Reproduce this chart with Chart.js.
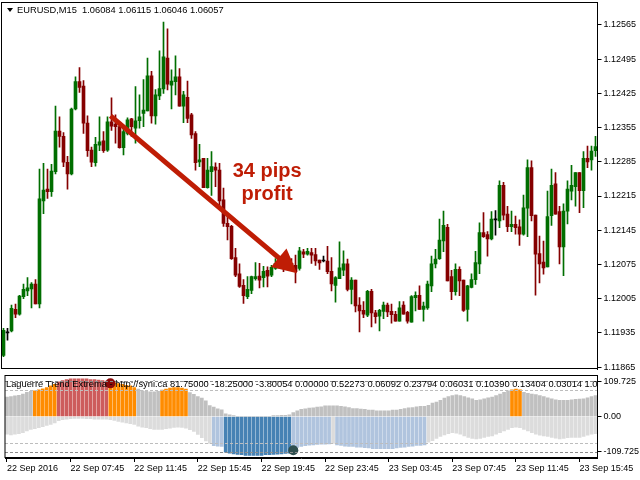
<!DOCTYPE html>
<html>
<head>
<meta charset="utf-8">
<script src="https://cdn.jsdelivr.net/npm/chart.js@4.4.0/dist/chart.umd.min.js"></script>
<style>
  html, body { margin: 0; padding: 0; background: #fff; }
  #wrap { position: relative; width: 640px; height: 480px; overflow: hidden; }
  #priceChart { position: absolute; left: 0; top: 0; }
  #lagChart { position: absolute; left: 0; top: 370px; }
</style>
</head>
<body>
<div id="wrap">
  <canvas id="priceChart" width="640" height="372"></canvas>
  <canvas id="lagChart" width="640" height="110"></canvas>
</div>
<script>
// EURUSD M15 candles, 22-23 Sep 2016
var opens = [
  1.11889, 1.11935, 1.11939, 1.11983, 1.11973, 1.12009, 1.12021, 1.12025, 1.12035, 1.11994,
  1.12205, 1.12229, 1.12224, 1.12265, 1.12348, 1.12337, 1.12284, 1.12260, 1.12393, 1.12449,
  1.12440, 1.12364, 1.12309, 1.12283, 1.12319, 1.12328, 1.12309, 1.12367, 1.12362, 1.12357,
  1.12314, 1.12343, 1.12373, 1.12354, 1.12369, 1.12384, 1.12389, 1.12461, 1.12379, 1.12420,
  1.12434, 1.12497, 1.12442, 1.12449, 1.12459, 1.12399, 1.12417, 1.12381, 1.12343, 1.12285,
  1.12292, 1.12232, 1.12265, 1.12274, 1.12268, 1.12207, 1.12159, 1.12153, 1.12089, 1.12056,
  1.12032, 1.12009, 1.12022, 1.12046, 1.12051, 1.12048, 1.12063, 1.12053, 1.12067, 1.12070,
  1.12078, 1.12070, 1.12077, 1.12073, 1.12067, 1.12101, 1.12096, 1.12099, 1.12095, 1.12084,
  1.12082, 1.12082, 1.12061, 1.12032, 1.12046, 1.12063, 1.12076, 1.12024, 1.12043, 1.11992,
  1.11981, 1.11971, 1.12020, 1.11976, 1.11969, 1.11979, 1.11992, 1.11979, 1.11973, 1.11959,
  1.11992, 1.11977, 1.11957, 1.12007, 1.12012, 1.11983, 1.11986, 1.12031, 1.12076, 1.12087,
  1.12123, 1.12151, 1.12050, 1.12019, 1.12065, 1.12043, 1.11983, 1.12028, 1.12044, 1.12076,
  1.12140, 1.12136, 1.12127, 1.12166, 1.12164, 1.12237, 1.12178, 1.12152, 1.12157, 1.12152,
  1.12137, 1.12190, 1.12273, 1.12176, 1.12097, 1.12080, 1.12070, 1.12175, 1.12240, 1.12183,
  1.12111, 1.12184, 1.12225, 1.12234, 1.12263, 1.12226, 1.12292, 1.12289, 1.12308
];
var highs = [
  1.11944, 1.11944, 1.11992, 1.11994, 1.12012, 1.12035, 1.12048, 1.12038, 1.12044, 1.12270,
  1.12282, 1.12270, 1.12280, 1.12399, 1.12377, 1.12345, 1.12296, 1.12395, 1.12459, 1.12478,
  1.12451, 1.12379, 1.12315, 1.12335, 1.12377, 1.12347, 1.12377, 1.12416, 1.12381, 1.12364,
  1.12354, 1.12375, 1.12374, 1.12439, 1.12422, 1.12453, 1.12497, 1.12470, 1.12433, 1.12512,
  1.12571, 1.12557, 1.12473, 1.12502, 1.12476, 1.12429, 1.12450, 1.12384, 1.12347, 1.12321,
  1.12292, 1.12292, 1.12306, 1.12283, 1.12282, 1.12231, 1.12173, 1.12155, 1.12108, 1.12076,
  1.12044, 1.12050, 1.12051, 1.12079, 1.12077, 1.12071, 1.12070, 1.12073, 1.12087, 1.12085,
  1.12087, 1.12084, 1.12087, 1.12094, 1.12110, 1.12106, 1.12108, 1.12108, 1.12108, 1.12084,
  1.12092, 1.12112, 1.12089, 1.12050, 1.12121, 1.12103, 1.12086, 1.12048, 1.12043, 1.12007,
  1.11999, 1.12022, 1.12024, 1.11981, 1.11983, 1.11998, 1.11996, 1.11994, 1.11979, 1.11999,
  1.11999, 1.11979, 1.12011, 1.12019, 1.12031, 1.11998, 1.12041, 1.12092, 1.12106, 1.12168,
  1.12184, 1.12157, 1.12063, 1.12076, 1.12070, 1.12043, 1.12032, 1.12056, 1.12102, 1.12160,
  1.12181, 1.12142, 1.12183, 1.12185, 1.12246, 1.12243, 1.12194, 1.12184, 1.12174, 1.12166,
  1.12217, 1.12289, 1.12287, 1.12176, 1.12133, 1.12123, 1.12225, 1.12270, 1.12263, 1.12194,
  1.12199, 1.12246, 1.12278, 1.12263, 1.12263, 1.12306, 1.12317, 1.12317, 1.12337
];
var lows = [
  1.11886, 1.11920, 1.11937, 1.11966, 1.11971, 1.12005, 1.12011, 1.11986, 1.11994, 1.11986,
  1.12179, 1.12210, 1.12214, 1.12260, 1.12315, 1.12275, 1.12229, 1.12258, 1.12391, 1.12427,
  1.12343, 1.12296, 1.12275, 1.12276, 1.12308, 1.12304, 1.12306, 1.12349, 1.12323, 1.12313,
  1.12299, 1.12340, 1.12337, 1.12323, 1.12354, 1.12357, 1.12389, 1.12364, 1.12362, 1.12412,
  1.12425, 1.12432, 1.12393, 1.12422, 1.12399, 1.12365, 1.12365, 1.12333, 1.12268, 1.12275,
  1.12232, 1.12231, 1.12216, 1.12234, 1.12193, 1.12153, 1.12125, 1.12085, 1.12050, 1.12028,
  1.11995, 1.12005, 1.12015, 1.12043, 1.12027, 1.12029, 1.12029, 1.12050, 1.12065, 1.12067,
  1.12060, 1.12065, 1.12063, 1.12037, 1.12063, 1.12089, 1.12094, 1.12077, 1.12073, 1.12065,
  1.12080, 1.12056, 1.12021, 1.11998, 1.12046, 1.12052, 1.12021, 1.11994, 1.11978, 1.11937,
  1.11966, 1.11968, 1.11947, 1.11955, 1.11939, 1.11964, 1.11968, 1.11955, 1.11959, 1.11959,
  1.11973, 1.11955, 1.11957, 1.11980, 1.11983, 1.11959, 1.11983, 1.12019, 1.12068, 1.12085,
  1.12101, 1.12041, 1.12003, 1.12012, 1.12011, 1.11979, 1.11959, 1.12027, 1.12034, 1.12056,
  1.12130, 1.12092, 1.12125, 1.12135, 1.12150, 1.12166, 1.12142, 1.12142, 1.12137, 1.12114,
  1.12135, 1.12132, 1.12164, 1.12012, 1.12037, 1.12055, 1.12070, 1.12155, 1.12178, 1.12076,
  1.12052, 1.12158, 1.12207, 1.12194, 1.12181, 1.12191, 1.12273, 1.12268, 1.12296
];
var closes = [
  1.11940, 1.11935, 1.11985, 1.11973, 1.12010, 1.12024, 1.12027, 1.12035, 1.11994, 1.12209,
  1.12227, 1.12224, 1.12266, 1.12348, 1.12337, 1.12284, 1.12260, 1.12393, 1.12449, 1.12437,
  1.12364, 1.12308, 1.12284, 1.12321, 1.12326, 1.12308, 1.12367, 1.12358, 1.12357, 1.12314,
  1.12347, 1.12371, 1.12357, 1.12369, 1.12377, 1.12391, 1.12461, 1.12379, 1.12422, 1.12435,
  1.12500, 1.12444, 1.12450, 1.12459, 1.12399, 1.12422, 1.12374, 1.12340, 1.12283, 1.12289,
  1.12232, 1.12268, 1.12275, 1.12268, 1.12205, 1.12159, 1.12152, 1.12087, 1.12053, 1.12030,
  1.12011, 1.12024, 1.12050, 1.12050, 1.12043, 1.12061, 1.12051, 1.12069, 1.12077, 1.12078,
  1.12073, 1.12077, 1.12071, 1.12060, 1.12103, 1.12096, 1.12102, 1.12094, 1.12082, 1.12078,
  1.12082, 1.12060, 1.12035, 1.12048, 1.12068, 1.12076, 1.12024, 1.12043, 1.11990, 1.11980,
  1.11973, 1.12020, 1.11976, 1.11968, 1.11981, 1.11992, 1.11978, 1.11972, 1.11959, 1.11986,
  1.11973, 1.11959, 1.12009, 1.12012, 1.11983, 1.11990, 1.12035, 1.12076, 1.12086, 1.12125,
  1.12155, 1.12041, 1.12019, 1.12065, 1.12041, 1.11981, 1.12031, 1.12044, 1.12079, 1.12140,
  1.12132, 1.12127, 1.12168, 1.12166, 1.12237, 1.12176, 1.12152, 1.12157, 1.12150, 1.12137,
  1.12191, 1.12273, 1.12175, 1.12096, 1.12076, 1.12068, 1.12173, 1.12237, 1.12178, 1.12111,
  1.12184, 1.12229, 1.12237, 1.12263, 1.12226, 1.12292, 1.12285, 1.12307, 1.12316
];

// Laguerre Trend Extrema histogram: upper (positive) and lower (negative) part of every bar
var lagUpper = [
  60, 62, 64, 66, 70, 75, 78, 80, 83, 86,
  90, 95, 100, 108, 112, 115, 117, 117, 117, 117,
  117, 115, 115, 113, 112, 110, 107, 105, 102, 100,
  97, 95, 90, 85, 80, 78, 77, 77, 78, 82,
  85, 88, 90, 90, 88, 85, 74, 69, 62, 57,
  49, 34, 29, 24, 21, 8, 5, 3, 0, 0,
  0, 0, 0, 0, 0, 0, 0, 3, 3, 4,
  4, 5, 12, 18, 22, 24, 26, 27, 29, 30,
  33, 33, 33, 33, 32, 30, 28, 25, 25, 23,
  22, 20, 20, 18, 18, 18, 18, 20, 20, 22,
  25, 27, 28, 30, 32, 32, 35, 42, 45, 50,
  57, 62, 65, 67, 65, 62, 58, 55, 50, 52,
  55, 58, 60, 65, 70, 75, 80, 83, 85, 83,
  75, 72, 70, 68, 65, 62, 58, 55, 52, 50,
  50, 50, 52, 53, 54, 55, 58, 62, 65
];
var lagLower = [
  -55, -57, -55, -53, -50, -45, -40, -38, -35, -32,
  -28, -25, -20, -13, -10, -8, -7, -6, -6, -6,
  -7, -7, -8, -8, -8, -8, -10, -12, -15, -18,
  -20, -22, -25, -30, -33, -35, -38, -40, -40, -40,
  -38, -36, -34, -33, -34, -36, -41, -46, -56, -66,
  -76, -84, -91, -92, -93, -111, -114, -116, -118, -119,
  -121, -121, -121, -121, -121, -119, -119, -118, -117, -116,
  -115, -114, -99, -96, -93, -91, -89, -88, -87, -86,
  -86, -85, -84, -88, -90, -92, -93, -93, -95, -95,
  -97, -98, -100, -100, -100, -100, -100, -100, -98, -96,
  -95, -93, -92, -90, -90, -88, -80, -75, -68, -62,
  -57, -53, -50, -52, -55, -60, -65, -68, -70, -68,
  -65, -62, -60, -55, -50, -45, -40, -35, -33, -35,
  -40, -45, -50, -55, -58, -60, -62, -65, -67, -70,
  -68, -66, -65, -65, -65, -62, -58, -55, -53
];
// zone of each bar: 0 neutral, 1 strong, 2 extreme
var upperZone = [
  0, 0, 0, 0, 0, 0, 0, 1, 1, 1,
  1, 1, 1, 2, 2, 2, 2, 2, 2, 2,
  2, 2, 2, 2, 2, 2, 1, 1, 1, 1,
  1, 1, 1, 0, 0, 0, 0, 0, 0, 1,
  1, 1, 1, 1, 1, 1, 0, 0, 0, 0,
  0, 0, 0, 0, 0, 0, 0, 0, 0, 0,
  0, 0, 0, 0, 0, 0, 0, 0, 0, 0,
  0, 0, 0, 0, 0, 0, 0, 0, 0, 0,
  0, 0, 0, 0, 0, 0, 0, 0, 0, 0,
  0, 0, 0, 0, 0, 0, 0, 0, 0, 0,
  0, 0, 0, 0, 0, 0, 0, 0, 0, 0,
  0, 0, 0, 0, 0, 0, 0, 0, 0, 0,
  0, 0, 0, 0, 0, 0, 0, 1, 1, 1,
  0, 0, 0, 0, 0, 0, 0, 0, 0, 0,
  0, 0, 0, 0, 0, 0, 0, 0, 0
];
var lowerZone = [
  0, 0, 0, 0, 0, 0, 0, 0, 0, 0,
  0, 0, 0, 0, 0, 0, 0, 0, 0, 0,
  0, 0, 0, 0, 0, 0, 0, 0, 0, 0,
  0, 0, 0, 0, 0, 0, 0, 0, 0, 0,
  0, 0, 0, 0, 0, 0, 0, 0, 0, 0,
  0, 0, 1, 1, 1, 2, 2, 2, 2, 2,
  2, 2, 2, 2, 2, 2, 2, 2, 2, 2,
  2, 2, 1, 1, 1, 1, 1, 1, 1, 1,
  1, 1, 0, 1, 1, 1, 1, 1, 1, 1,
  1, 1, 1, 1, 1, 1, 1, 1, 1, 1,
  1, 1, 1, 1, 1, 1, 0, 0, 0, 0,
  0, 0, 0, 0, 0, 0, 0, 0, 0, 0,
  0, 0, 0, 0, 0, 0, 0, 0, 0, 0,
  0, 0, 0, 0, 0, 0, 0, 0, 0, 0,
  0, 0, 0, 0, 0, 0, 0, 0, 0
];
// extrema signals: [bar index, indicator value]
var sellSignal = [26, 103];
var buySignal = [72, -105];
var lagLevels = [109.725, 81.75, -81.75, -109.725];

var priceTicks = [1.11865, 1.11935, 1.12005, 1.12075, 1.12145, 1.12215, 1.12285, 1.12355, 1.12425, 1.12495, 1.12565];
var lagTicks = [-109.725, 0, 109.725];
var timeLabels = ['22 Sep 2016', '22 Sep 07:45', '22 Sep 11:45', '22 Sep 15:45', '22 Sep 19:45',
                  '22 Sep 23:45', '23 Sep 03:45', '23 Sep 07:45', '23 Sep 11:45', '23 Sep 15:45'];
var barsPerLabel = 16;

var chartTitle = 'EURUSD,M15  1.06084 1.06115 1.06046 1.06057';
var lagTitle = 'Laguerre Trend Extrema - http://syni.ca 81.75000 -18.25000 -3.80054 0.00000 0.52273 0.06092 0.23794 0.06031 0.10390 0.13404 0.03014 1.00000';
// arrow and note, in [bar index, price]
var arrowStart = [26.75, 1.12379];
var arrowEnd = [73.4, 1.12057];
var noteLines = ['34 pips', 'profit'];
var noteAt = [[65.9, 1.12254], [65.9, 1.12207]];

var UP = '#006e00', DOWN = '#850000', DOJI = '#000000';
var ARROW = '#bf1d05';
var upperColors = ['#c0c0c0', '#ff8c00', '#cd5c5c'];
var lowerColors = ['#dcdcdc', '#b0c4de', '#4682b4'];
var FONT = '"Liberation Sans", Arial, sans-serif';

Chart.defaults.font.family = FONT;
Chart.defaults.font.size = 9;
Chart.defaults.color = '#000';

var idx = opens.map(function (v, i) { return i; });
var candleColors = opens.map(function (o, i) {
  return closes[i] > o ? UP : (closes[i] < o ? DOWN : DOJI);
});

function frame(ctx, a) {
  ctx.strokeStyle = '#000';
  ctx.lineWidth = 1;
  ctx.strokeRect(a.left, a.top + 0.5, a.right - a.left, a.bottom - a.top - 1);
}

function rightAxis(min, max, ticks, fmt) {
  return {
    position: 'right', min: min, max: max,
    afterBuildTicks: function (ax) { ax.ticks = ticks.map(function (v) { return { value: v }; }); },
    afterFit: function (ax) { ax.width = 42.5; ax.paddingTop = 0; ax.paddingBottom = 0; },
    ticks: { callback: fmt, padding: 2, color: '#000' },
    grid: { drawOnChartArea: false, drawTicks: true, tickLength: 4, color: '#000' },
    border: { display: true, color: '#000', width: 1 }
  };
}

var priceExtras = {
  id: 'priceExtras',
  afterDraw: function (chart) {
    var ctx = chart.ctx, a = chart.chartArea, xs = chart.scales.x, ys = chart.scales.y;
    ctx.save();
    frame(ctx, a);

    // symbol header
    ctx.fillStyle = '#000';
    ctx.beginPath();
    ctx.moveTo(7, 8); ctx.lineTo(13, 8); ctx.lineTo(10, 12);
    ctx.closePath(); ctx.fill();
    ctx.font = '9.3px ' + FONT;
    ctx.textAlign = 'left';
    ctx.textBaseline = 'middle';
    ctx.fillText(chartTitle, 17, 10.5);

    // arrow
    var x0 = xs.getPixelForValue(arrowStart[0]), y0 = ys.getPixelForValue(arrowStart[1]);
    var x1 = xs.getPixelForValue(arrowEnd[0]), y1 = ys.getPixelForValue(arrowEnd[1]);
    var ang = Math.atan2(y1 - y0, x1 - x0), head = 24, half = 12;
    var c = Math.cos(ang), s = Math.sin(ang);
    var bx = x1 - head * c, by = y1 - head * s;
    ctx.strokeStyle = ARROW;
    ctx.lineWidth = 5;
    ctx.beginPath();
    ctx.moveTo(x0, y0);
    ctx.lineTo(bx + 4 * c, by + 4 * s);
    ctx.stroke();
    ctx.fillStyle = ARROW;
    ctx.beginPath();
    ctx.moveTo(x1, y1);
    ctx.lineTo(bx - half * s, by + half * c);
    ctx.lineTo(bx + half * s, by - half * c);
    ctx.closePath();
    ctx.fill();

    // note
    ctx.font = 'bold 20px ' + FONT;
    ctx.textAlign = 'center';
    ctx.textBaseline = 'alphabetic';
    noteLines.forEach(function (t, i) {
      ctx.fillText(t, xs.getPixelForValue(noteAt[i][0]), ys.getPixelForValue(noteAt[i][1]));
    });
    ctx.restore();
  }
};

new Chart(document.getElementById('priceChart'), {
  type: 'bar',
  data: {
    labels: idx,
    datasets: [
      { data: lows.map(function (l, i) { return [l, highs[i]]; }),
        backgroundColor: candleColors, barThickness: 1, grouped: false, order: 2 },
      { data: opens.map(function (o, i) { return [o, closes[i]]; }),
        backgroundColor: candleColors, barThickness: 3, grouped: false, minBarLength: 1, order: 1 }
    ]
  },
  options: {
    responsive: false,
    animation: false,
    devicePixelRatio: 1,
    events: [],
    layout: { padding: { left: 1.5, top: 2, right: 0, bottom: 3 } },
    plugins: { legend: { display: false }, tooltip: { enabled: false } },
    scales: {
      x: { type: 'category', offset: true, display: false, grid: { display: false } },
      y: rightAxis(1.11861, 1.12612, priceTicks, function (v) { return v.toFixed(5); })
    }
  },
  plugins: [priceExtras]
});

var lagExtras = {
  id: 'lagExtras',
  afterDatasetsDraw: function (chart) {
    var ctx = chart.ctx, a = chart.chartArea, ys = chart.scales.y;
    ctx.save();
    ctx.lineWidth = 1;
    ctx.setLineDash([3, 2]);
    lagLevels.forEach(function (v) {
      var y = Math.round(ys.getPixelForValue(v)) + 0.5;
      ctx.strokeStyle = Math.abs(v) > 100 ? '#8c8c8c' : '#bdbdbd';
      ctx.beginPath();
      ctx.moveTo(a.left, y);
      ctx.lineTo(a.right, y);
      ctx.stroke();
    });
    ctx.restore();
  },
  afterDraw: function (chart) {
    var ctx = chart.ctx, a = chart.chartArea;
    ctx.save();
    frame(ctx, a);
    ctx.beginPath();
    ctx.rect(a.left, a.top, a.right - a.left, a.bottom - a.top);
    ctx.clip();
    ctx.fillStyle = '#000';
    ctx.font = '9.3px ' + FONT;
    ctx.textAlign = 'left';
    ctx.textBaseline = 'middle';
    ctx.fillText(lagTitle, 6, a.top + 9);
    ctx.restore();
  }
};

var lagY = rightAxis(-129, 129, lagTicks, function (v) { return v === 0 ? '0.00' : v.toFixed(3); });

new Chart(document.getElementById('lagChart'), {
  type: 'bar',
  data: {
    labels: idx,
    datasets: [
      { type: 'line', data: idx.map(function (i) { return i === sellSignal[0] ? sellSignal[1] : null; }),
        showLine: false, pointRadius: 5, pointBorderWidth: 0, pointBackgroundColor: '#8b0a0a', order: 0 },
      { type: 'line', data: idx.map(function (i) { return i === buySignal[0] ? buySignal[1] : null; }),
        showLine: false, pointRadius: 5, pointBorderWidth: 0, pointBackgroundColor: '#2f4f4f', order: 0 },
      { data: lagUpper, backgroundColor: upperZone.map(function (z) { return upperColors[z]; }),
        barThickness: 3, grouped: false, order: 2 },
      { data: lagLower, backgroundColor: lowerZone.map(function (z) { return lowerColors[z]; }),
        barThickness: 3, grouped: false, order: 2 }
    ]
  },
  options: {
    responsive: false,
    animation: false,
    devicePixelRatio: 1,
    events: [],
    layout: { padding: { left: 1.5, top: 2, right: 0, bottom: 0 } },
    plugins: { legend: { display: false }, tooltip: { enabled: false } },
    scales: {
      x: {
        type: 'category', offset: true,
        afterBuildTicks: function (ax) {
          ax.ticks = ax.ticks.filter(function (t) { return t.value % barsPerLabel === 0; });
        },
        afterFit: function (ax) { ax.height = 22; ax.paddingLeft = 0; ax.paddingRight = 0; },
        ticks: {
          autoSkip: false, maxRotation: 0, minRotation: 0, align: 'start', padding: 1, color: '#000',
          callback: function (v) { return timeLabels[v / barsPerLabel]; }
        },
        grid: { drawOnChartArea: false, offset: false, drawTicks: true, tickLength: 4, color: '#000' },
        border: { display: true, color: '#000', width: 1 }
      },
      y: lagY
    }
  },
  plugins: [lagExtras]
});
</script>
</body>
</html>
